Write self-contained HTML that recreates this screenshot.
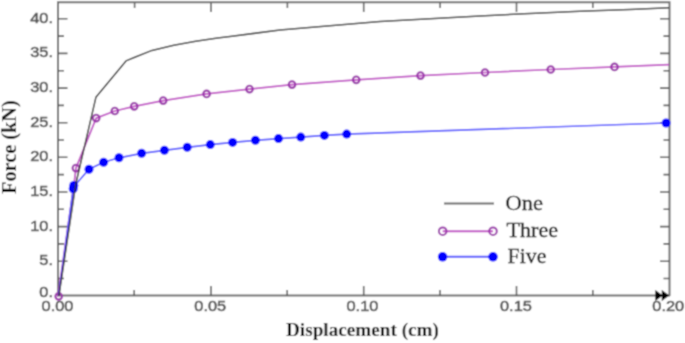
<!DOCTYPE html>
<html><head><meta charset="utf-8">
<style>
html,body{margin:0;padding:0;background:#fff;}
body{width:685px;height:343px;overflow:hidden;position:relative;}
svg{position:absolute;left:0;top:0;}
#w{position:absolute;left:0;top:0;width:685px;height:343px;}
.n{font-family:"Liberation Sans",sans-serif;font-size:14.5px;fill:#555;stroke:#555;stroke-width:0.55px;}
.t{font-family:"Liberation Serif",serif;font-weight:bold;font-size:19.2px;fill:#111;}
.l{font-family:"Liberation Serif",serif;font-size:21px;fill:#111;stroke:#111;stroke-width:0.3px;}
</style></head>
<body>
<div id="w"><svg width="685" height="343" viewBox="0 0 685 343"><defs><filter id="bl" x="0" y="0" width="685" height="343" filterUnits="userSpaceOnUse"><feConvolveMatrix order="3" kernelMatrix="1 2 1 2 6 2 1 2 1" divisor="18" edgeMode="duplicate"/></filter></defs><g filter="url(#bl)"><rect width="685" height="343" fill="#fff"/>
<!-- frame -->
<g stroke="#6e6e6e" stroke-width="2" fill="none">
<path d="M58 1.3V296M57 2.3H670.5M669.5 1.3V296M57 295.6H670"/>
</g>
<!-- ticks -->
<g stroke="#5c5c5c" stroke-width="1.6" fill="none">
<!-- left major -->
<path d="M58 18.8h9.5M58 53.4h9.5M58 88.1h9.5M58 122.7h9.5M58 157.3h9.5M58 192h9.5M58 226.6h9.5M58 261.2h9.5"/>
<!-- left minor -->
<path d="M58 36.1h6M58 70.8h6M58 105.4h6M58 140h6M58 174.6h6M58 209.3h6M58 243.9h6M58 278.5h6"/>
<!-- right major -->
<path d="M669.5 18.8h-9.5M669.5 53.4h-9.5M669.5 88.1h-9.5M669.5 122.7h-9.5M669.5 157.3h-9.5M669.5 192h-9.5M669.5 226.6h-9.5M669.5 261.2h-9.5"/>
<path d="M669.5 36.1h-6M669.5 70.8h-6M669.5 105.4h-6M669.5 140h-6M669.5 174.6h-6M669.5 209.3h-6M669.5 243.9h-6M669.5 278.5h-6"/>
<!-- bottom -->
<path d="M211 296v-10M363.7 296v-10M516.5 296v-10"/>
<path d="M134.2 296v-6M287.2 296v-6M440 296v-6M592.8 296v-6"/>
<!-- top -->
<path d="M211 3v9M363.7 3v9M516.5 3v9"/>
<path d="M134.6 3v5M287.4 3v5M440.1 3v5M592.8 3v5"/>
</g>
<!-- arrows at bottom right -->
<path d="M655.3 290L662.8 295.5L655.3 301Z M661.8 290L669.3 295.5L661.8 301Z" fill="#000"/>

<!-- Three curve -->
<polyline fill="none" stroke="#c048c4" stroke-width="1.7" stroke-linejoin="round"
 points="57.9,296.3 74.1,183.7 75.9,168.1 96.2,118.1 114.8,111 134.2,106.3 163.2,100.6 206.6,93.9 249.5,89.1 292,84.6 356.2,79.8 420.5,75.6 485,72.5 550.7,69.5 614.5,66.9 669,64.7"/>
<g fill="none" stroke="#9a30aa" stroke-width="2.1">
<circle cx="58.7" cy="296.3" r="3.3"/><circle cx="75.9" cy="168.1" r="3.3"/><circle cx="96.2" cy="118.1" r="3.3"/>
<circle cx="114.8" cy="111" r="3.3"/><circle cx="134.2" cy="106.3" r="3.3"/><circle cx="163.2" cy="100.6" r="3.3"/>
<circle cx="206.6" cy="93.9" r="3.3"/><circle cx="249.5" cy="89.1" r="3.3"/><circle cx="292" cy="84.6" r="3.3"/>
<circle cx="356.2" cy="79.8" r="3.3"/><circle cx="420.5" cy="75.6" r="3.3"/><circle cx="485" cy="72.5" r="3.3"/>
<circle cx="550.7" cy="69.5" r="3.3"/><circle cx="614.5" cy="66.9" r="3.3"/>
</g>

<!-- Five curve -->
<polyline fill="none" stroke="#5050ff" stroke-width="1.7" stroke-linejoin="round"
 points="58.6,296 73.5,187 89,169.3 103.6,162.2 119,157.8 141.6,153.3 164.4,150.3 187.2,147.3 210.3,144.6 232.6,142.4 255.4,140.3 278.5,138.6 300.8,137.1 324.4,135.4 346.7,134.1 666.1,123"/>
<g fill="#0000ff">
<circle cx="73.8" cy="185.5" r="4.5"/><circle cx="73.2" cy="188.8" r="4.5"/><circle cx="89" cy="169.3" r="4.5"/><circle cx="103.6" cy="162.2" r="4.5"/>
<circle cx="119" cy="157.8" r="4.5"/><circle cx="141.6" cy="153.3" r="4.5"/><circle cx="164.4" cy="150.3" r="4.5"/>
<circle cx="187.2" cy="147.3" r="4.5"/><circle cx="210.3" cy="144.6" r="4.5"/><circle cx="232.6" cy="142.4" r="4.5"/>
<circle cx="255.4" cy="140.3" r="4.5"/><circle cx="278.5" cy="138.6" r="4.5"/><circle cx="300.8" cy="137.1" r="4.5"/>
<circle cx="324.4" cy="135.4" r="4.5"/><circle cx="346.7" cy="134.1" r="4.5"/><circle cx="666.1" cy="123" r="4.5"/>
</g>

<!-- One curve -->
<polyline fill="none" stroke="#303030" stroke-width="1.5" stroke-linejoin="round"
 points="58.9,296 75.8,184 95.9,97.3 126,60.9 134.8,57.3 152,50.4 173.8,45.2 195.7,41.3 217.6,37.9 230,36.4 280,30.1 330,25.7 380,21.6 430,18.8 480,15.9 530,13.5 580,11.3 630,9.4 669,7.7"/>

<!-- legend -->
<path d="M444 203.5H494" stroke="#6a6a6a" stroke-width="2"/>
<path d="M442.7 231.2H493" stroke="#c048c4" stroke-width="2"/>
<g fill="none" stroke="#9a30aa" stroke-width="2"><circle cx="442.7" cy="231.2" r="3.8"/><circle cx="493" cy="231.2" r="3.8"/></g>
<path d="M442.6 256.8H493" stroke="#5050ff" stroke-width="2"/>
<g fill="#0000ff"><circle cx="442.6" cy="256.8" r="4.8"/><circle cx="493" cy="256.8" r="4.8"/></g>
<text class="l" transform="translate(505.5,210.3) scale(1.07,1)">One</text>
<text class="l" transform="translate(506.6,237.3) scale(1.05,1)">Three</text>
<text class="l" transform="translate(507.6,262.9) scale(1.04,1)">Five</text>

<!-- y labels -->
<g class="n" text-anchor="end">
<text transform="translate(53,22.8) scale(1.13,1)">40.</text>
<text transform="translate(53,57.4) scale(1.13,1)">35.</text>
<text transform="translate(53,92.1) scale(1.13,1)">30.</text>
<text transform="translate(53,126.7) scale(1.13,1)">25.</text>
<text transform="translate(53,161.3) scale(1.13,1)">20.</text>
<text transform="translate(53,196) scale(1.13,1)">15.</text>
<text transform="translate(53,230.6) scale(1.13,1)">10.</text>
<text transform="translate(53,265.2) scale(1.13,1)">5.</text>
<text transform="translate(53,297) scale(1.13,1)">0.</text>
</g>
<!-- x labels -->
<g class="n" text-anchor="middle">
<text transform="translate(57.5,311) scale(1.13,1)">0.00</text>
<text transform="translate(210.2,311) scale(1.13,1)">0.05</text>
<text transform="translate(362.4,311) scale(1.13,1)">0.10</text>
<text transform="translate(515.9,311) scale(1.13,1)">0.15</text>
<text transform="translate(668.2,311) scale(1.13,1)">0.20</text>
</g>
<!-- axis titles -->
<text class="t" x="286" y="336">Displacement (cm)</text>
<text class="t" style="font-size:20.3px" transform="translate(16,194) rotate(-90)">Force (kN)</text>
</g></svg></div>
</body></html>
